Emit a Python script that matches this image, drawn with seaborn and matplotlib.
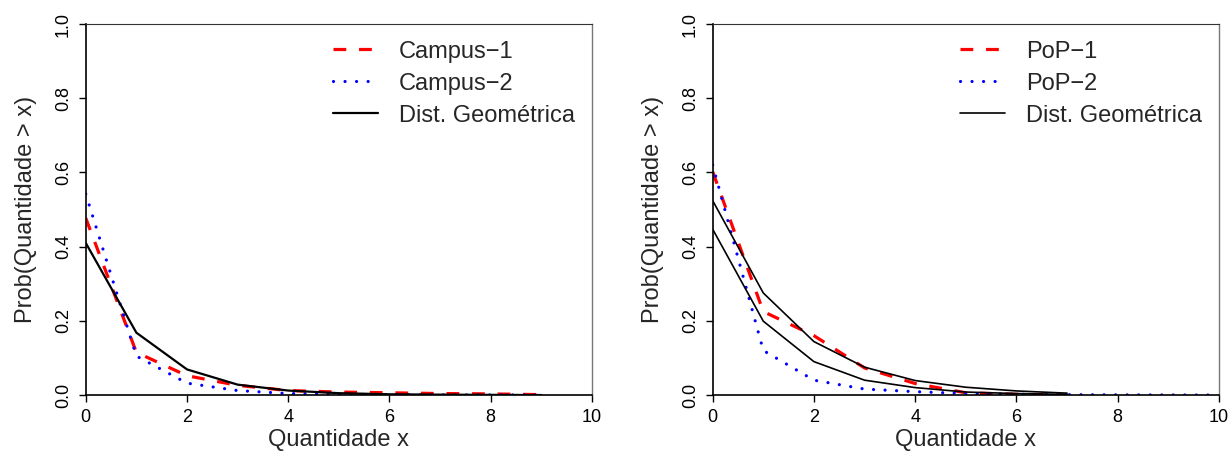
import seaborn as sns
import matplotlib.pyplot as plt
import pandas as pd
import numpy as np

# values
x_left = [0, 1, 2, 3, 4, 5, 6, 7, 8, 9]
campus1 = [0.477, 0.115, 0.052, 0.026, 0.012, 0.008, 0.006, 0.004, 0.003, 0.001]
campus2 = [0.542, 0.105, 0.032, 0.012, 0.004, 0.002, 0.001, 0.0005, 0.0002, 0.0]
geom_left = [0.41, 0.168, 0.069, 0.028, 0.012, 0.005, 0.002, 0.001, 0.0004, 0.0]

x_pop = [0, 1, 2, 3, 4, 5, 6, 7]
pop1 = [0.602, 0.225, 0.160, 0.073, 0.031, 0.006, 0.002, 0.0]
x_pop2 = [0, 1, 2, 3, 4, 5, 6, 7, 8, 9, 10]
pop2 = [0.62, 0.12, 0.04, 0.016, 0.009, 0.004, 0.002, 0.001, 0.0005, 0.0002, 0.0]
geom_pop_a = [0.524, 0.275, 0.144, 0.075, 0.039, 0.021, 0.011, 0.005]
geom_pop_b = [0.447, 0.199, 0.090, 0.040, 0.020, 0.008, 0.004, 0.0016]

labels_left = ["Campus\u22121", "Campus\u22122", "Dist. Geométrica"]
labels_right = ["PoP\u22121", "PoP\u22122", "Dist. Geométrica"]

sns.set_style("ticks")
plt.rcParams['font.family'] = ['Liberation Sans', 'DejaVu Sans']

fig = plt.figure(figsize=(12.3, 4.53), dpi=100)
ax1 = fig.add_axes([0.0697, 0.128, 0.4116, 0.819])
ax2 = fig.add_axes([0.5794, 0.128, 0.4116, 0.819])

red_style = dict(color="#ff0000", linewidth=2.3, linestyle=(0, (4, 4)))
blue_style = dict(color="#0000ff", linewidth=2.3, linestyle=(0, (0.01, 3.6)),
                  dash_capstyle="round")

# left panel
sns.lineplot(x=x_left, y=campus1, ax=ax1, label=labels_left[0], **red_style)
sns.lineplot(x=x_left, y=campus2, ax=ax1, label=labels_left[1], **blue_style)
sns.lineplot(x=x_left, y=geom_left, ax=ax1, label=labels_left[2],
             color="black", linewidth=1.6)

# right panel
sns.lineplot(x=x_pop, y=pop1, ax=ax2, label=labels_right[0], **red_style)
sns.lineplot(x=x_pop2, y=pop2, ax=ax2, label=labels_right[1], **blue_style)
sns.lineplot(x=x_pop, y=geom_pop_a, ax=ax2, label=labels_right[2],
             color="black", linewidth=1.2)
sns.lineplot(x=x_pop, y=geom_pop_b, ax=ax2, color="black", linewidth=1.2)

for ax in (ax1, ax2):
    ax.set_xlim(0, 10)
    ax.set_ylim(0, 1)
    ax.set_xticks(np.arange(0, 11, 2))
    ax.set_yticks(np.arange(0, 1.01, 0.2))
    ax.set_yticklabels([f"{v:.1f}" for v in np.arange(0, 1.01, 0.2)],
                       rotation=90, va="center")
    ax.tick_params(direction="out", length=5, width=1, labelsize=13,
                   color="black", labelcolor="black", pad=5)
    ax.set_xlabel("Quantidade x", fontsize=17, labelpad=2)
    ax.set_ylabel("Prob(Quantidade > x)", fontsize=17, labelpad=13)
    for side in ("left", "bottom"):
        ax.spines[side].set_color("black")
        ax.spines[side].set_linewidth(1.2)
    ax.spines["top"].set_color("#333333")
    ax.spines["top"].set_linewidth(0.8)
    ax.spines["right"].set_color("#777777")
    ax.spines["right"].set_linewidth(1.0)
    ax.legend(loc="upper left", bbox_to_anchor=(0.488, 0.955), frameon=False,
              fontsize=17, handlelength=1.9, handletextpad=0.9,
              labelspacing=0.42, borderpad=0, borderaxespad=0)

fig.savefig("out.png", dpi=100)
